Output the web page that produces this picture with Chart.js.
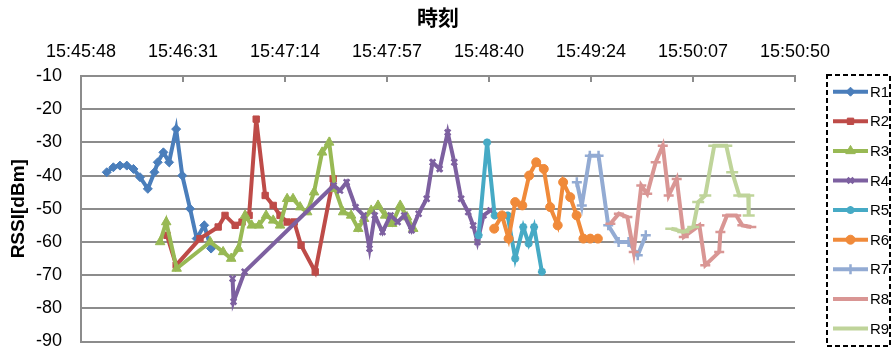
<!DOCTYPE html>
<html>
<head>
<meta charset="utf-8">
<script src="https://cdn.jsdelivr.net/npm/chart.js@4.4.1/dist/chart.umd.min.js"></script>
<style>
  body { margin: 0; background: #fff; }
</style>
</head>
<body>
<canvas id="myChart" width="893" height="350"></canvas>
<script>
// x values are seconds after 15:45:48
const xTickLabels = ["15:45:48", "15:46:31", "15:47:14", "15:47:57", "15:48:40", "15:49:24", "15:50:07", "15:50:50"];
const tickStep = 43.2; // 0.0005 day
const yTicks = [-90, -80, -70, -60, -50, -40, -30, -20, -10];

const seriesNames = ["R1", "R2", "R3", "R4", "R5", "R6", "R7", "R8", "R9"];

const r1Sec = [10.9, 13.7, 16.5, 19.4, 22.2, 25.0, 28.3, 31.1, 32.5, 34.9, 37.3, 40.3, 42.9, 46.2, 49.0, 52.2, 55.1];
const r1Rssi = [-39, -37.5, -37, -37, -38, -40.5, -44, -39, -36, -33, -36, -26, -40, -50, -59, -55, -62];

const r2Sec = [36.4, 40.3, 50.4, 58.1, 61.0, 65.3, 68.2, 71.2, 74.2, 78.0, 81.4, 84.3, 87.3, 90.3, 93.2, 99.2, 106.8];
const r2Rssi = [-58, -67, -59, -55.5, -52, -55, -54, -52, -23, -46, -49, -52, -54, -54, -61, -69, -41];

const r3Sec = [33.5, 36.1, 40.5, 54.7, 60.2, 63.6, 66.7, 69.5, 72.3, 75.4, 78.4, 81.4, 84.3, 87.3, 89.8, 92.8, 95.8, 98.7, 102.1, 105.1,
  107.6, 111.0, 114.4, 117.4, 119.9, 122.9, 125.8, 128.8, 131.8, 135.2, 138.1, 140.7];
const r3Rssi = [-60, -54, -68, -60, -63, -65, -62, -52, -55, -55, -52, -53.5, -55, -47, -47, -49.5, -51, -45, -33, -30,
  -44, -51, -52, -56, -53, -50.5, -49, -52, -54.5, -49, -52.5, -56];

const r4Sec = [64.2, 64.6, 69.3, 107.0, 109.7, 112.5, 116.3, 119.7, 122.2, 124.4, 127.7, 131.1, 134.1, 136.9, 140.0, 143.0,
  146.4, 148.9, 151.9, 155.3, 158.1, 161.0, 164.0, 166.1, 167.9, 170.5, 173.4];
const r4Rssi = [-71, -78, -69, -43, -44.5, -42, -49.5, -52, -62, -52, -57, -52, -54, -52, -56.5, -51.5,
  -47, -36, -38, -27, -36, -47, -51, -55, -60, -52, -50.5];

const r5Sec = [168.4, 172.0, 175.2, 177.9, 180.7, 183.9, 187.3, 189.6, 191.9, 195.2];
const r5Rssi = [-58, -30, -52, -52.5, -52, -65, -55.5, -60.5, -55.5, -69];

const r6Sec = [175.0, 178.3, 181.1, 183.9, 186.9, 189.8, 192.8, 196.0, 198.7, 201.9, 204.2, 207.2, 209.9, 212.8, 215.7, 218.9];
const r6Rssi = [-56, -52, -59, -48, -49, -40, -36, -38, -49.5, -55, -42, -46.5, -52, -59, -59, -59];

const r7Sec = [210.0, 212.1, 215.5, 219.2, 223.3, 227.7, 231.9, 235.8, 239.2];
const r7Rssi = [-42, -49, -34, -34, -55, -60, -60, -64, -58];

const r8Sec = [224.2, 227.8, 231.4, 234.1, 237.3, 239.8, 243.4, 246.4, 248.9, 252.3, 255.3, 261.9, 264.4, 270.3, 270.8,
  273.6, 277.5, 280.1, 283.9];
const r8Rssi = [-54.5, -51.5, -52.5, -63, -43, -45.5, -36, -31, -46, -41, -58.5, -55, -67, -63, -57,
  -52, -52, -55, -55.5];

const r9Sec = [250.0, 255.1, 259.3, 261.4, 264.4, 268.2, 273.3, 275.8, 278.8, 282.6, 282.8];
const r9Rssi = [-56, -57, -55.5, -48, -46, -31, -31, -39, -46, -46, -52];

const allSec = [r1Sec, r2Sec, r3Sec, r4Sec, r5Sec, r6Sec, r7Sec, r8Sec, r9Sec];
const allRssi = [r1Rssi, r2Rssi, r3Rssi, r4Rssi, r5Rssi, r6Rssi, r7Rssi, r8Rssi, r9Rssi];

// look of each series (Excel 2010 style)
const colors = ["#4A7EBB", "#BE4B48", "#98B954", "#7D60A0", "#46AAC5", "#F08A3A", "#93ABD3", "#D99694", "#BFD49A"];
const markers = ["rectRot", "rect", "triangle", "crossRot", "star", "circle", "cross", "line", "line"];
const markerSize = [4.5, 4.5, 5.5, 4, 4, 4.5, 5, 5, 6];

const gridColor = "#8C8C8C";
const font = "'Liberation Sans', Arial, sans-serif";

const datasets = seriesNames.map((name, i) => ({
  label: name,
  data: allSec[i].map((s, j) => ({ x: s, y: allRssi[i][j] })),
  borderColor: colors[i],
  backgroundColor: colors[i],
  pointBackgroundColor: colors[i],
  pointBorderColor: colors[i],
  borderWidth: 4,
  pointStyle: markers[i],
  pointRadius: markerSize[i],
  pointBorderWidth: (markers[i] === "line" || markers[i].startsWith("cross") || markers[i] === "star") ? 2.5 : 1,
  tension: 0,
  order: seriesNames.length - i, // later series on top, like Excel
}));

// inner tick marks on the top axis, and the dashed legend on the right
const excelBits = {
  id: "excelBits",
  afterDraw(chart) {
    const ctx = chart.ctx;
    const xs = chart.scales.x;
    const top = chart.chartArea.top;
    ctx.save();
    ctx.strokeStyle = gridColor;
    ctx.lineWidth = 2;
    xTickLabels.forEach((_, k) => {
      const px = Math.round(xs.getPixelForValue(k * tickStep));
      ctx.beginPath();
      ctx.moveTo(px, top);
      ctx.lineTo(px, top + 6);
      ctx.stroke();
    });

    // legend box
    ctx.strokeStyle = "#000";
    ctx.lineWidth = 2;
    ctx.setLineDash([5, 3]);
    ctx.strokeRect(827, 75, 63, 271);
    ctx.setLineDash([]);

    chart.data.datasets.forEach((ds, i) => {
      const y = 91.7 + i * 29.6;
      ctx.strokeStyle = ds.borderColor;
      ctx.fillStyle = ds.borderColor;
      ctx.lineWidth = 4;
      ctx.beginPath();
      ctx.moveTo(833, y);
      ctx.lineTo(868, y);
      ctx.stroke();
      ctx.lineWidth = ds.pointBorderWidth;
      Chart.helpers.drawPoint(ctx, {
        pointStyle: ds.pointStyle,
        radius: ds.pointRadius,
        rotation: 0,
        borderWidth: ds.pointBorderWidth,
      }, 850.5, y);
      ctx.fillStyle = "#000";
      ctx.font = "15px " + font;
      ctx.textBaseline = "middle";
      ctx.textAlign = "left";
      ctx.fillText(ds.label, 870, y + 1);
    });
    ctx.restore();
  },
};

new Chart(document.getElementById("myChart"), {
  type: "line",
  data: { datasets },
  options: {
    responsive: false,
    animation: false,
    devicePixelRatio: 1,
    layout: { padding: { left: 0, right: 98, top: 4, bottom: 8 } },
    scales: {
      x: {
        type: "linear",
        position: "top",
        min: 0,
        max: tickStep * (xTickLabels.length - 1),
        afterBuildTicks: (scale) => {
          scale.ticks = xTickLabels.map((_, k) => ({ value: k * tickStep }));
        },
        afterFit: (scale) => { scale.height = 72; },
        ticks: {
          callback: (v, idx) => xTickLabels[idx],
          color: "#000",
          font: { family: font, size: 18 },
          padding: 13,
          maxRotation: 0,
          autoSkip: false,
        },
        grid: { display: true, drawOnChartArea: false, drawTicks: false },
        border: { display: true, color: gridColor, width: 2 },
        title: {
          display: true,
          text: "時刻",
          color: "#000",
          font: { family: "'Noto Sans CJK JP'", size: 21, weight: "bold" },
          padding: { top: 0, bottom: 6 },
        },
      },
      y: {
        min: -90,
        max: -10,
        afterBuildTicks: (scale) => {
          scale.ticks = yTicks.map((v) => ({ value: v }));
        },
        afterFit: (scale) => {
          scale.width = 81;
          scale.paddingTop = 0;
          scale.paddingBottom = 0;
        },
        ticks: {
          color: "#000",
          font: { family: font, size: 18 },
          padding: 19,
        },
        grid: { color: gridColor, lineWidth: 2, drawTicks: false },
        border: { display: true, color: gridColor, width: 2 },
        title: {
          display: true,
          text: "RSSI[dBm]",
          color: "#000",
          font: { family: font, size: 19, weight: "bold" },
          padding: { top: 7, bottom: 4 },
        },
      },
    },
    plugins: {
      legend: { display: false },
      tooltip: { enabled: false },
    },
  },
  plugins: [excelBits],
});
</script>
</body>
</html>
